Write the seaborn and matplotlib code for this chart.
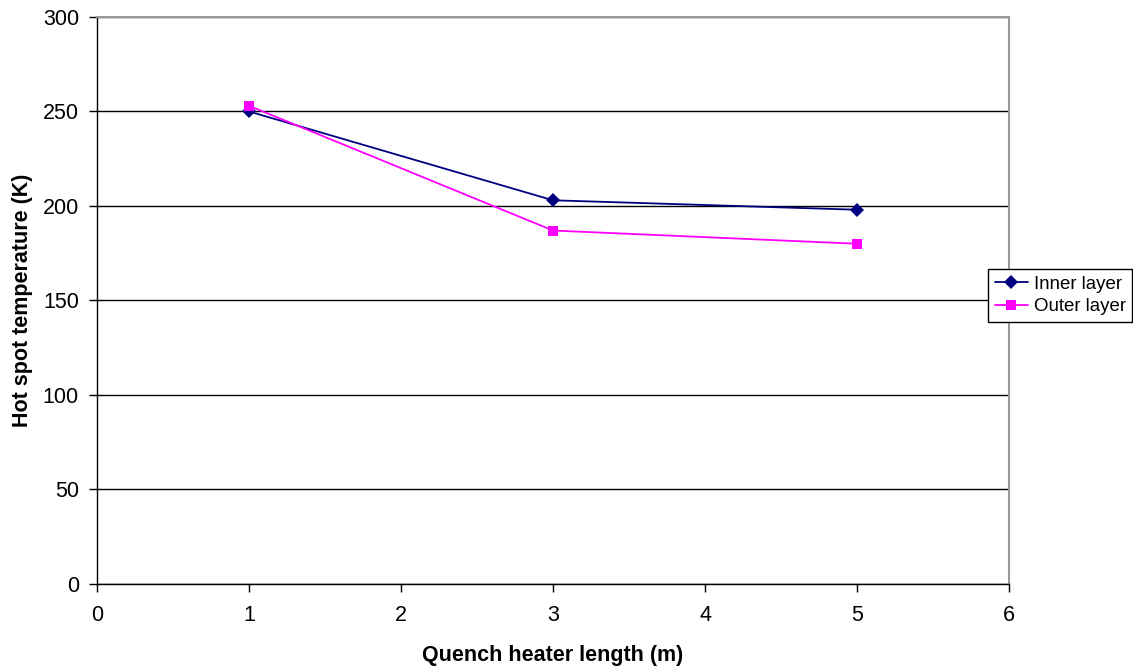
import pandas as pd
import seaborn as sns
import matplotlib.pyplot as plt

# Data
heater_length = [1, 3, 5]
inner_layer = [250, 203, 198]
outer_layer = [253, 187, 180]
series_names = ["Inner layer", "Outer layer"]
series_colors = ["#000080", "#FF00FF"]
series_markers = ["D", "s"]

sns.set_style("white")
plt.rcParams['font.family'] = ['Liberation Sans', 'DejaVu Sans']
plt.rcParams['text.color'] = 'black'
plt.rcParams['xtick.color'] = 'black'
plt.rcParams['ytick.color'] = 'black'
plt.rcParams['axes.labelcolor'] = 'black'

df = pd.DataFrame({
    'length': heater_length * 2,
    'temp': inner_layer + outer_layer,
    'layer': [series_names[0]] * 3 + [series_names[1]] * 3,
})

fig = plt.figure(figsize=(11.33, 6.7), dpi=100)
ax = fig.add_axes([0.0856, 0.1284, 0.805, 0.8463])

sns.lineplot(data=df, x='length', y='temp', hue='layer', style='layer',
             palette=series_colors, markers=series_markers, dashes=False,
             markersize=7.5, markeredgewidth=0, linewidth=1.3, ax=ax)

ax.set_xlim(0, 6)
ax.set_ylim(0, 300)
ax.set_xticks(range(0, 7))
ax.set_yticks(range(0, 301, 50))
ax.yaxis.grid(True, color='black', linewidth=1)
ax.set_axisbelow(True)

for side in ['top', 'right']:
    ax.spines[side].set_color('#999999')
    ax.spines[side].set_linewidth(1.5)
for side in ['left', 'bottom']:
    ax.spines[side].set_color('black')
    ax.spines[side].set_linewidth(1)

ax.tick_params(axis='both', direction='out', length=6, width=1, color='black',
               labelsize=15.5, bottom=True, left=True)
ax.tick_params(axis='x', pad=9)
ax.tick_params(axis='y', pad=7)

ax.set_xlabel('Quench heater length (m)', fontsize=15.5, fontweight='bold', va='center')
ax.set_ylabel('Hot spot temperature (K)', fontsize=15.5, fontweight='bold', va='center')
ax.xaxis.set_label_coords(0.5, (584 - 656) / 567)
ax.yaxis.set_label_coords((22.5 - 97) / 912, 0.5)

# legend sits across the right edge of the plot, like the Excel original
leg = ax.legend(loc='center left', bbox_to_anchor=(988 / 1133, 1 - 295.5 / 670),
                bbox_transform=fig.transFigure, fontsize=13.4,
                frameon=True, fancybox=False, edgecolor='black', framealpha=1,
                borderpad=0.35, handlelength=1.8, handletextpad=0.3,
                labelspacing=0.3, borderaxespad=0.0)
leg.get_frame().set_linewidth(1)

fig.savefig('out.png', dpi=100)
